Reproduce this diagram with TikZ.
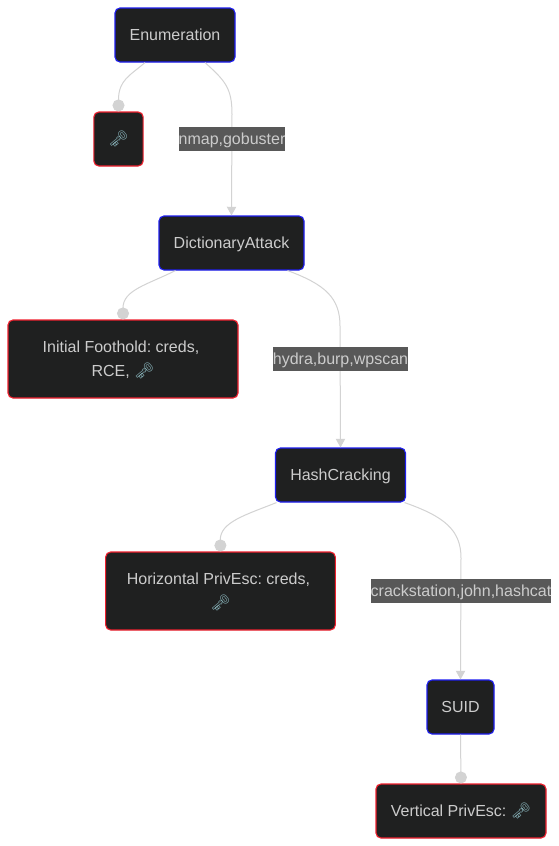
\documentclass[tikz,border=0pt]{standalone}
\usepackage{fontspec}
\setmainfont{Liberation Sans}
\newfontfamily\emojifont{Noto Emoji}
\usetikzlibrary{arrows.meta}
\definecolor{nodefill}{HTML}{1F2020}
\definecolor{txt}{HTML}{CCCCCC}
\definecolor{edgecol}{HTML}{D3D3D3}
\definecolor{labelbg}{HTML}{585858}
\definecolor{bluestroke}{HTML}{1E1EF0}
\definecolor{redstroke}{HTML}{F0202E}
\definecolor{keycol}{HTML}{7FA6AC}
\newcommand{\keyglyph}{{\color{keycol}\emojifont\symbol{"1F5DD}}}
\newcommand{\oneline}{\rule[-3.5pt]{0pt}{14.5pt}}
\newcommand{\firstline}{\rule{0pt}{11pt}}
\newcommand{\lastline}{\rule[-3.5pt]{0pt}{3.5pt}}
\tikzset{
  x=0.75pt,y=-0.75pt,
  box/.style={draw,line width=0.85pt,fill=nodefill,rounded corners=3.75pt,text=txt,align=center,inner sep=0pt,font=\fontsize{12}{18}\selectfont\frenchspacing},
  stage/.style={box,draw=bluestroke},
  result/.style={box,draw=redstroke},
  elabel/.style={fill=labelbg,text=txt,inner sep=0pt,font=\fontsize{12}{18}\selectfont\frenchspacing},
  edge/.style={draw=edgecol,line width=0.75pt},
  flow/.style={edge,-{Triangle[length=6.5pt,width=7pt,fill=edgecol]}},
  loot/.style={edge,-{Circle[length=9pt,width=9pt,fill=edgecol]}}
}
\begin{document}
\begin{tikzpicture}
\useasboundingbox[fill=white] (0,0) rectangle (559,846);
\node[stage,minimum width=90pt,minimum height=40.5pt] (enum) at (175,35) {\oneline Enumeration};
\node[result,minimum width=37pt,minimum height=40.5pt] (k0) at (118.5,139) {\oneline\keyglyph};
\node[stage,minimum width=108.75pt,minimum height=40.5pt] (dict) at (231.5,243) {\oneline DictionaryAttack};
\node[result,minimum width=172.5pt,minimum height=58.5pt] (init) at (123,359) {\firstline Initial Foothold: creds,\hspace*{3pt}\\\lastline RCE, \keyglyph};
\node[stage,minimum width=97.5pt,minimum height=40.5pt] (hash) at (340.5,475) {\oneline HashCracking};
\node[result,minimum width=172.25pt,minimum height=58.5pt] (horiz) at (220.5,591) {\firstline Horizontal PrivEsc: creds,\hspace*{3pt}\\\lastline\keyglyph};
\node[stage,minimum width=50.25pt,minimum height=40.5pt] (suid) at (460.5,707) {\oneline SUID};
\node[result,minimum width=127.5pt,minimum height=40.5pt] (vert) at (461,811) {\oneline Vertical PrivEsc: \keyglyph};

\draw[loot] ([xshift=-22.5pt]enum.south) .. controls +(-15,13) and (118.5,80) .. (k0.north);
\draw[flow] ([xshift=22.5pt]enum.south) .. controls +(20,18) and (232,88) .. (232,114) -- (dict.north);
\draw[loot] ([xshift=-42pt]dict.south) .. controls +(-28,14) and (123,290) .. (init.north);
\draw[flow] ([xshift=42pt]dict.south) .. controls +(38,14) and (340,298) .. (340,326) -- (hash.north);
\draw[loot] ([xshift=-48pt]hash.south) .. controls +(-30,12) and (220,522) .. (horiz.north);
\draw[flow] ([xshift=48pt]hash.south) .. controls +(40,14) and (461,530) .. (461,558) -- (suid.north);
\draw[loot] (suid.south) -- (vert.north);

\node[elabel,minimum width=79.5pt,minimum height=18pt] (l1) at (232,139) {\oneline nmap,gobuster};
\node[elabel,minimum width=101.25pt,minimum height=18pt] (l2) at (340.5,359) {\oneline hydra,burp,wpscan};
\node[elabel,minimum width=135pt,minimum height=18pt] (l3) at (461,591) {\oneline crackstation,john,hashcat};
\end{tikzpicture}
\end{document}
